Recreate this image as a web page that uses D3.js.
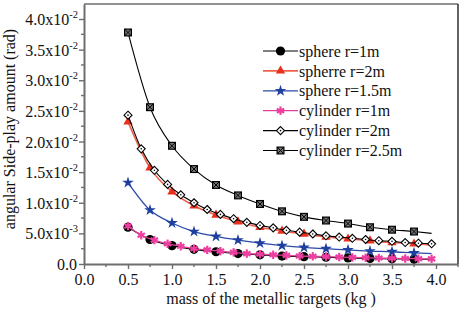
<!DOCTYPE html>
<html><head><meta charset="utf-8">
<script src="https://cdn.jsdelivr.net/npm/d3@7"></script>
<style>
html,body{margin:0;padding:0;background:#fff;}
</style></head>
<body><svg id="c" width="468" height="312"></svg>
<script>
// ---- data ----
const xQuarter = [0.5,0.75,1.0,1.25,1.5,1.75,2.0,2.25,2.5,2.75,3.0,3.25,3.5,3.75,3.95];
const xFine = [0.5,0.65,0.8,0.95,1.1,1.25,1.4,1.55,1.7,1.85,2.0,2.15,2.3,2.45,2.6,2.75,2.9,3.05,3.2,3.35,3.5,3.65,3.8,3.95];

const sphere1  = [0.0060,0.0040,0.0030,0.0024,0.0020,0.0017,0.0015,0.0013,0.0012,0.0011,0.0010,0.0009,0.00085,0.0008,0.00075];
const sphere2  = [0.0232,0.0157,0.0118,0.0095,0.0080,0.0069,0.0060,0.0054,0.0049,0.0044,0.0041,0.0038,0.0035,0.0033,0.0031];
const sphere15 = [0.0133,0.0088,0.0067,0.0053,0.0045,0.0039,0.0034,0.0030,0.0027,0.0025,0.0023,0.0021,0.0020,0.0018,0.0017];
const cyl1  = [0.0062,0.0047,0.0039,0.0033,0.0029,0.0025,0.0023,0.0021,0.0019,0.0017,0.0016,0.0015,0.0014,0.0013,0.00125,0.0012,0.00113,0.00107,0.00102,0.00097,0.00093,0.00089,0.00086,0.00083];
const cyl2  = [0.0243,0.0188,0.0153,0.0130,0.0113,0.0100,0.0089,0.0081,0.0074,0.0068,0.0063,0.0059,0.0055,0.0052,0.0049,0.0046,0.0044,0.0042,0.0040,0.0038,0.0037,0.0035,0.0034,0.0033];
const cyl25 = [0.0378,0.0256,0.0193,0.0155,0.0129,0.0112,0.0098,0.0086,0.0077,0.0071,0.0066,0.0060,0.0056,0.0053,0.0050];

const seriesNames = ["sphere r=1m","spherre r=2m","sphere r=1.5m","cylinder r=1m","cylinder r=2m","cylinder r=2.5m"];
const xTicks = [0,0.5,1.0,1.5,2.0,2.5,3.0,3.5,4.0];
const xTickLabels = ["0.0","0.5","1.0","1.5","2.0","2.5","3.0","3.5","4.0"];
const yTicks = [0,0.005,0.01,0.015,0.02,0.025,0.03,0.035,0.04];
const yTickMant = ["0.0","5.0x10","1.0x10","1.5x10","2.0x10","2.5x10","3.0x10","3.5x10","4.0x10"];
const yTickExp  = ["","-3","-2","-2","-2","-2","-2","-2","-2"];
const xTitle = "mass of the metallic targets (kg )";
const yTitle = "angular Side-play amount (rad)";

const FONT = "'Liberation Serif', 'Times New Roman', Tinos, 'DejaVu Serif', serif";

// ---- layout ----
const L=84, R=458, T=4, B=264;
const svg = d3.select("#c");
const x = d3.scaleLinear().domain([0,4.25]).range([L,R]);
const y = d3.scaleLinear().domain([0,0.04245]).range([B,T]);
const axisCol = "#6e6e6e";

// frame
svg.append("line").attr("x1",L).attr("x2",R).attr("y1",T).attr("y2",T).attr("stroke",axisCol).attr("stroke-width",1.6);
svg.append("line").attr("x1",R).attr("x2",R).attr("y1",T).attr("y2",B).attr("stroke","#222").attr("stroke-width",1.4);

// bottom axis
const gx = svg.append("g").attr("transform",`translate(0,${B})`)
  .call(d3.axisBottom(x).tickValues(xTicks).tickFormat((d,i)=>xTickLabels[i]).tickSize(5).tickSizeOuter(0).tickPadding(5));
gx.attr("font-family",null).attr("font-size",null);
gx.select(".domain").attr("stroke",axisCol).attr("stroke-width",2);
gx.selectAll(".tick line").attr("stroke",axisCol).attr("stroke-width",1.4);
gx.selectAll(".tick text").attr("font-size",16).attr("fill","#111");
const xMinor = d3.range(0.25,4.3,0.5);
svg.append("g").selectAll("line").data(xMinor).join("line")
  .attr("x1",d=>x(d)).attr("x2",d=>x(d)).attr("y1",B).attr("y2",B+3)
  .attr("stroke",axisCol).attr("stroke-width",1.4);

// left axis
const gy = svg.append("g").attr("transform",`translate(${L},0)`)
  .call(d3.axisLeft(y).tickValues(yTicks).tickFormat("").tickSize(5).tickSizeOuter(0));
gy.attr("font-family",null).attr("font-size",null);
gy.select(".domain").attr("stroke",axisCol).attr("stroke-width",2);
gy.selectAll(".tick line").attr("stroke",axisCol).attr("stroke-width",1.4);
gy.selectAll(".tick text").remove();
const yMinor = d3.range(0.0025,0.0424,0.005);
svg.append("g").selectAll("line").data(yMinor).join("line")
  .attr("x1",L).attr("x2",L-3).attr("y1",d=>y(d)).attr("y2",d=>y(d))
  .attr("stroke",axisCol).attr("stroke-width",1.4);
gy.selectAll(".tick").each(function(d,i){
  const t = d3.select(this).append("text").attr("x",-7).attr("dy","0.35em")
    .attr("text-anchor","end").attr("font-size",16).attr("fill","#111");
  if(yTickExp[i]){
    t.attr("x",-6);
    t.append("tspan").text(yTickMant[i]);
    t.append("tspan").text(yTickExp[i]).attr("font-size",10.5).attr("dy",-7);
  } else {
    t.text(yTickMant[i]);
  }
});

// titles
svg.append("text").attr("x",(L+R)/2).attr("y",304).attr("text-anchor","middle")
  .attr("font-size",16).attr("fill","#111").text(xTitle);
svg.append("text").attr("transform",`translate(15,129) rotate(-90)`).attr("text-anchor","middle")
  .attr("font-size",16).attr("fill","#111").text(yTitle);

// ---- markers ----
function drawMarker(g, type, cx, cy){
  if(type==="circle"){
    g.append("circle").attr("cx",cx).attr("cy",cy).attr("r",4.6).attr("fill","#000");
  } else if(type==="tri"){
    g.append("path").attr("transform",`translate(${cx},${cy})`)
      .attr("d",d3.symbol(d3.symbolTriangle,38)()).attr("fill","#e8301c");
  } else if(type==="star"){
    g.append("path").attr("transform",`translate(${cx},${cy})`)
      .attr("d",d3.symbol(d3.symbolStar,42)()).attr("fill","#2040a0");
  } else if(type==="ast"){
    const s=4.2, a=g.append("g").attr("transform",`translate(${cx},${cy})`);
    [[0,-s,0,s],[-s*0.87,-s*0.5,s*0.87,s*0.5],[-s*0.87,s*0.5,s*0.87,-s*0.5]].forEach(p=>{
      a.append("line").attr("x1",p[0]).attr("y1",p[1]).attr("x2",p[2]).attr("y2",p[3])
        .attr("stroke","#ee3fa0").attr("stroke-width",2.2);
    });
  } else if(type==="diamond"){
    const s=4;
    g.append("path").attr("d",`M${cx},${cy-s}L${cx+s},${cy}L${cx},${cy+s}L${cx-s},${cy}Z`)
      .attr("fill","#fff").attr("stroke","#000").attr("stroke-width",1.1);
    g.append("circle").attr("cx",cx).attr("cy",cy).attr("r",0.8).attr("fill","#000");
  } else if(type==="sqx"){
    const s=3.4;
    g.append("rect").attr("x",cx-s).attr("y",cy-s).attr("width",2*s).attr("height",2*s)
      .attr("fill","#777").attr("stroke","#000").attr("stroke-width",1.2);
    g.append("path").attr("d",`M${cx-s},${cy-s}L${cx+s},${cy+s}M${cx-s},${cy+s}L${cx+s},${cy-s}`)
      .attr("stroke","#000").attr("stroke-width",1);
  }
}

const series = [
  {name:seriesNames[0], xs:xQuarter, ys:sphere1,  color:"#000",    lw:1.2, marker:"circle", skipLast:true},
  {name:seriesNames[1], xs:xQuarter, ys:sphere2,  color:"#f0604a", lw:1.6, marker:"tri",    skipLast:true},
  {name:seriesNames[2], xs:xQuarter, ys:sphere15, color:"#2a4aa8", lw:1.3, marker:"star",   skipLast:true},
  {name:seriesNames[3], xs:xFine,    ys:cyl1,     color:"#e0409a", lw:1.3, marker:"ast",    skipLast:false},
  {name:seriesNames[4], xs:xFine,    ys:cyl2,     color:"#000",    lw:1.1, marker:"diamond",skipLast:false},
  {name:seriesNames[5], xs:xQuarter, ys:cyl25,    color:"#000",    lw:1.1, marker:"sqx",    skipLast:true}
];

const line = d3.line().x(d=>x(d[0])).y(d=>y(d[1])).curve(d3.curveMonotoneX);
series.forEach(s=>{
  const pts = s.xs.map((v,i)=>[v,s.ys[i]]);
  const g = svg.append("g");
  g.append("path").attr("d",line(pts)).attr("fill","none").attr("stroke",s.color).attr("stroke-width",s.lw);
  const mp = s.skipLast ? pts.slice(0,-1) : pts;
  mp.forEach(p=>drawMarker(g, s.marker, x(p[0]), y(p[1])));
});

// ---- legend ----
const lg = svg.append("g");
series.forEach((s,i)=>{
  const cy = 51 + i*19.9;
  lg.append("line").attr("x1",263).attr("x2",298).attr("y1",cy).attr("y2",cy)
    .attr("stroke",s.color).attr("stroke-width",s.lw);
  drawMarker(lg, s.marker, 280.5, cy);
  lg.append("text").attr("x",299).attr("y",cy).attr("dy","0.35em")
    .attr("font-size",16).attr("fill","#111").text(s.name);
});

svg.selectAll("text").attr("font-family",FONT).style("font-family",FONT);
</script></body></html>
